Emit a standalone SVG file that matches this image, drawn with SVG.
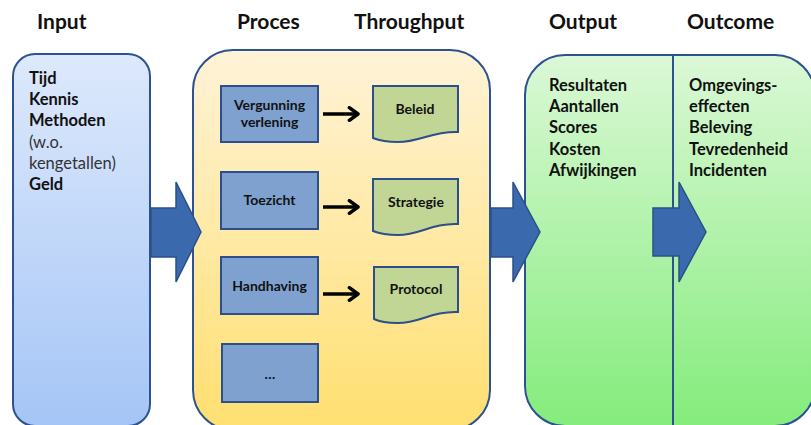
<svg xmlns="http://www.w3.org/2000/svg" width="811" height="425" viewBox="0 0 811 425">
<defs>
<linearGradient id="gBlue" x1="0" y1="0" x2="0" y2="1"><stop offset="0" stop-color="#dde9fc"/><stop offset="1" stop-color="#a5c5f6"/></linearGradient>
<linearGradient id="gYel" x1="0" y1="0" x2="0" y2="1"><stop offset="0" stop-color="#fff3d8"/><stop offset="1" stop-color="#ffdf70"/></linearGradient>
<linearGradient id="gGrn" x1="0" y1="0" x2="0" y2="1"><stop offset="0" stop-color="#dbf8d6"/><stop offset="1" stop-color="#84ec7c"/></linearGradient>
<marker id="ah" viewBox="0 0 10 10" refX="8" refY="5" markerWidth="4.5" markerHeight="4.5" orient="auto" markerUnits="strokeWidth"><path d="M2.5,1 L8,5 L2.5,9" fill="none" stroke="#000" stroke-width="2.2" stroke-linecap="round" stroke-linejoin="round"/></marker>
<style>
.hdr{font-family:Lato,"Liberation Sans",sans-serif;font-weight:bold;font-size:21px;fill:#111}
.txt{font-family:Lato,"Liberation Sans",sans-serif;font-weight:bold;font-size:16.5px;fill:#111}
.reg{font-weight:normal;fill:#333}
.sm{font-family:Lato,"Liberation Sans",sans-serif;font-weight:bold;font-size:14px;fill:#111;text-anchor:middle}
.big{stroke:#2d5291;stroke-width:2}
.box{fill:#7fa1d0;stroke:#2b4f8a;stroke-width:2}
.doc{fill:#c1d595;stroke:#2b4f8a;stroke-width:2}
.bigarrow{fill:#3b69ae;stroke:#2b5088;stroke-width:1.5}
.sa{stroke:#000;stroke-width:3.5;fill:none;marker-end:url(#ah)}
</style>
</defs>
<rect width="811" height="425" fill="#fff"/>
<g id="headers">
<text class="hdr" x="37" y="29">Input</text>
<text class="hdr" x="237" y="29">Proces</text>
<text class="hdr" x="354" y="29">Throughput</text>
<text class="hdr" x="549" y="29">Output</text>
<text class="hdr" x="687" y="29">Outcome</text>
</g>
<g id="input">
<rect class="big" x="13" y="54" width="137" height="372" rx="22" fill="url(#gBlue)"/>
<text class="txt" x="29" y="84">Tijd</text>
<text class="txt" x="29" y="105">Kennis</text>
<text class="txt" x="29" y="126">Methoden</text>
<text class="txt reg" x="29" y="148">(w.o.</text>
<text class="txt reg" x="29" y="169">kengetallen)</text>
<text class="txt" x="29" y="190">Geld</text>
</g>
<g id="proces">
<rect class="big" x="193" y="50" width="297" height="380" rx="40" fill="url(#gYel)"/>
</g>
<g id="vergunning">
<rect class="box" x="221" y="86" width="97" height="56"/>
<text class="sm" x="269.5" y="110">Vergunning</text>
<text class="sm" x="269.5" y="127">verlening</text>
</g>
<g id="toezicht">
<rect class="box" x="221" y="172" width="97" height="57"/>
<text class="sm" x="269.5" y="205">Toezicht</text>
</g>
<g id="handhaving">
<rect class="box" x="221" y="257" width="97" height="57"/>
<text class="sm" x="269.5" y="291">Handhaving</text>
</g>
<g id="etc">
<rect class="box" x="222" y="344" width="96" height="58"/>
<text class="sm" x="270" y="379">…</text>
</g>
<g id="beleid">
<path class="doc" d="M373,86 H458 V132 C432,131 420,142 398,142 C386,142 378,140 373,138 Z"/>
<text class="sm" x="415" y="114">Beleid</text>
</g>
<g id="strategie">
<path class="doc" d="M373,179 H458 V224 C432,223 420,235 398,235 C386,235 378,233 373,231 Z"/>
<text class="sm" x="416" y="207">Strategie</text>
</g>
<g id="protocol">
<path class="doc" d="M374,267 H458 V312 C432,311 420,323 398,323 C386,323 378,321 374,319 Z"/>
<text class="sm" x="416" y="294">Protocol</text>
</g>
<g id="output-outcome">
<rect class="big" x="525" y="55" width="290" height="371" rx="40" fill="url(#gGrn)"/>
<line class="big" x1="673" y1="55" x2="673" y2="426"/>
<text class="txt" x="549" y="91">Resultaten</text>
<text class="txt" x="549" y="112">Aantallen</text>
<text class="txt" x="549" y="133">Scores</text>
<text class="txt" x="549" y="155">Kosten</text>
<text class="txt" x="549" y="176">Afwijkingen</text>
<text class="txt" x="689" y="91">Omgevings-</text>
<text class="txt" x="689" y="112">effecten</text>
<text class="txt" x="689" y="133">Beleving</text>
<text class="txt" x="689" y="155">Tevredenheid</text>
<text class="txt" x="689" y="176">Incidenten</text>
</g>
<g id="connectors">
<path class="bigarrow" d="M151,208 H176 V182 L201,232 L176,282 V257 H151 Z"/>
<path class="bigarrow" d="M491,208 H513 V182 L540,232 L513,282 V257 H491 Z"/>
<path class="bigarrow" d="M653,208 H679 V182 L706,232 L679,282 V256 H653 Z"/>
<path class="sa" d="M323,114 H358"/>
<path class="sa" d="M323,207 H358"/>
<path class="sa" d="M323,294 H358"/>
</g>
</svg>
